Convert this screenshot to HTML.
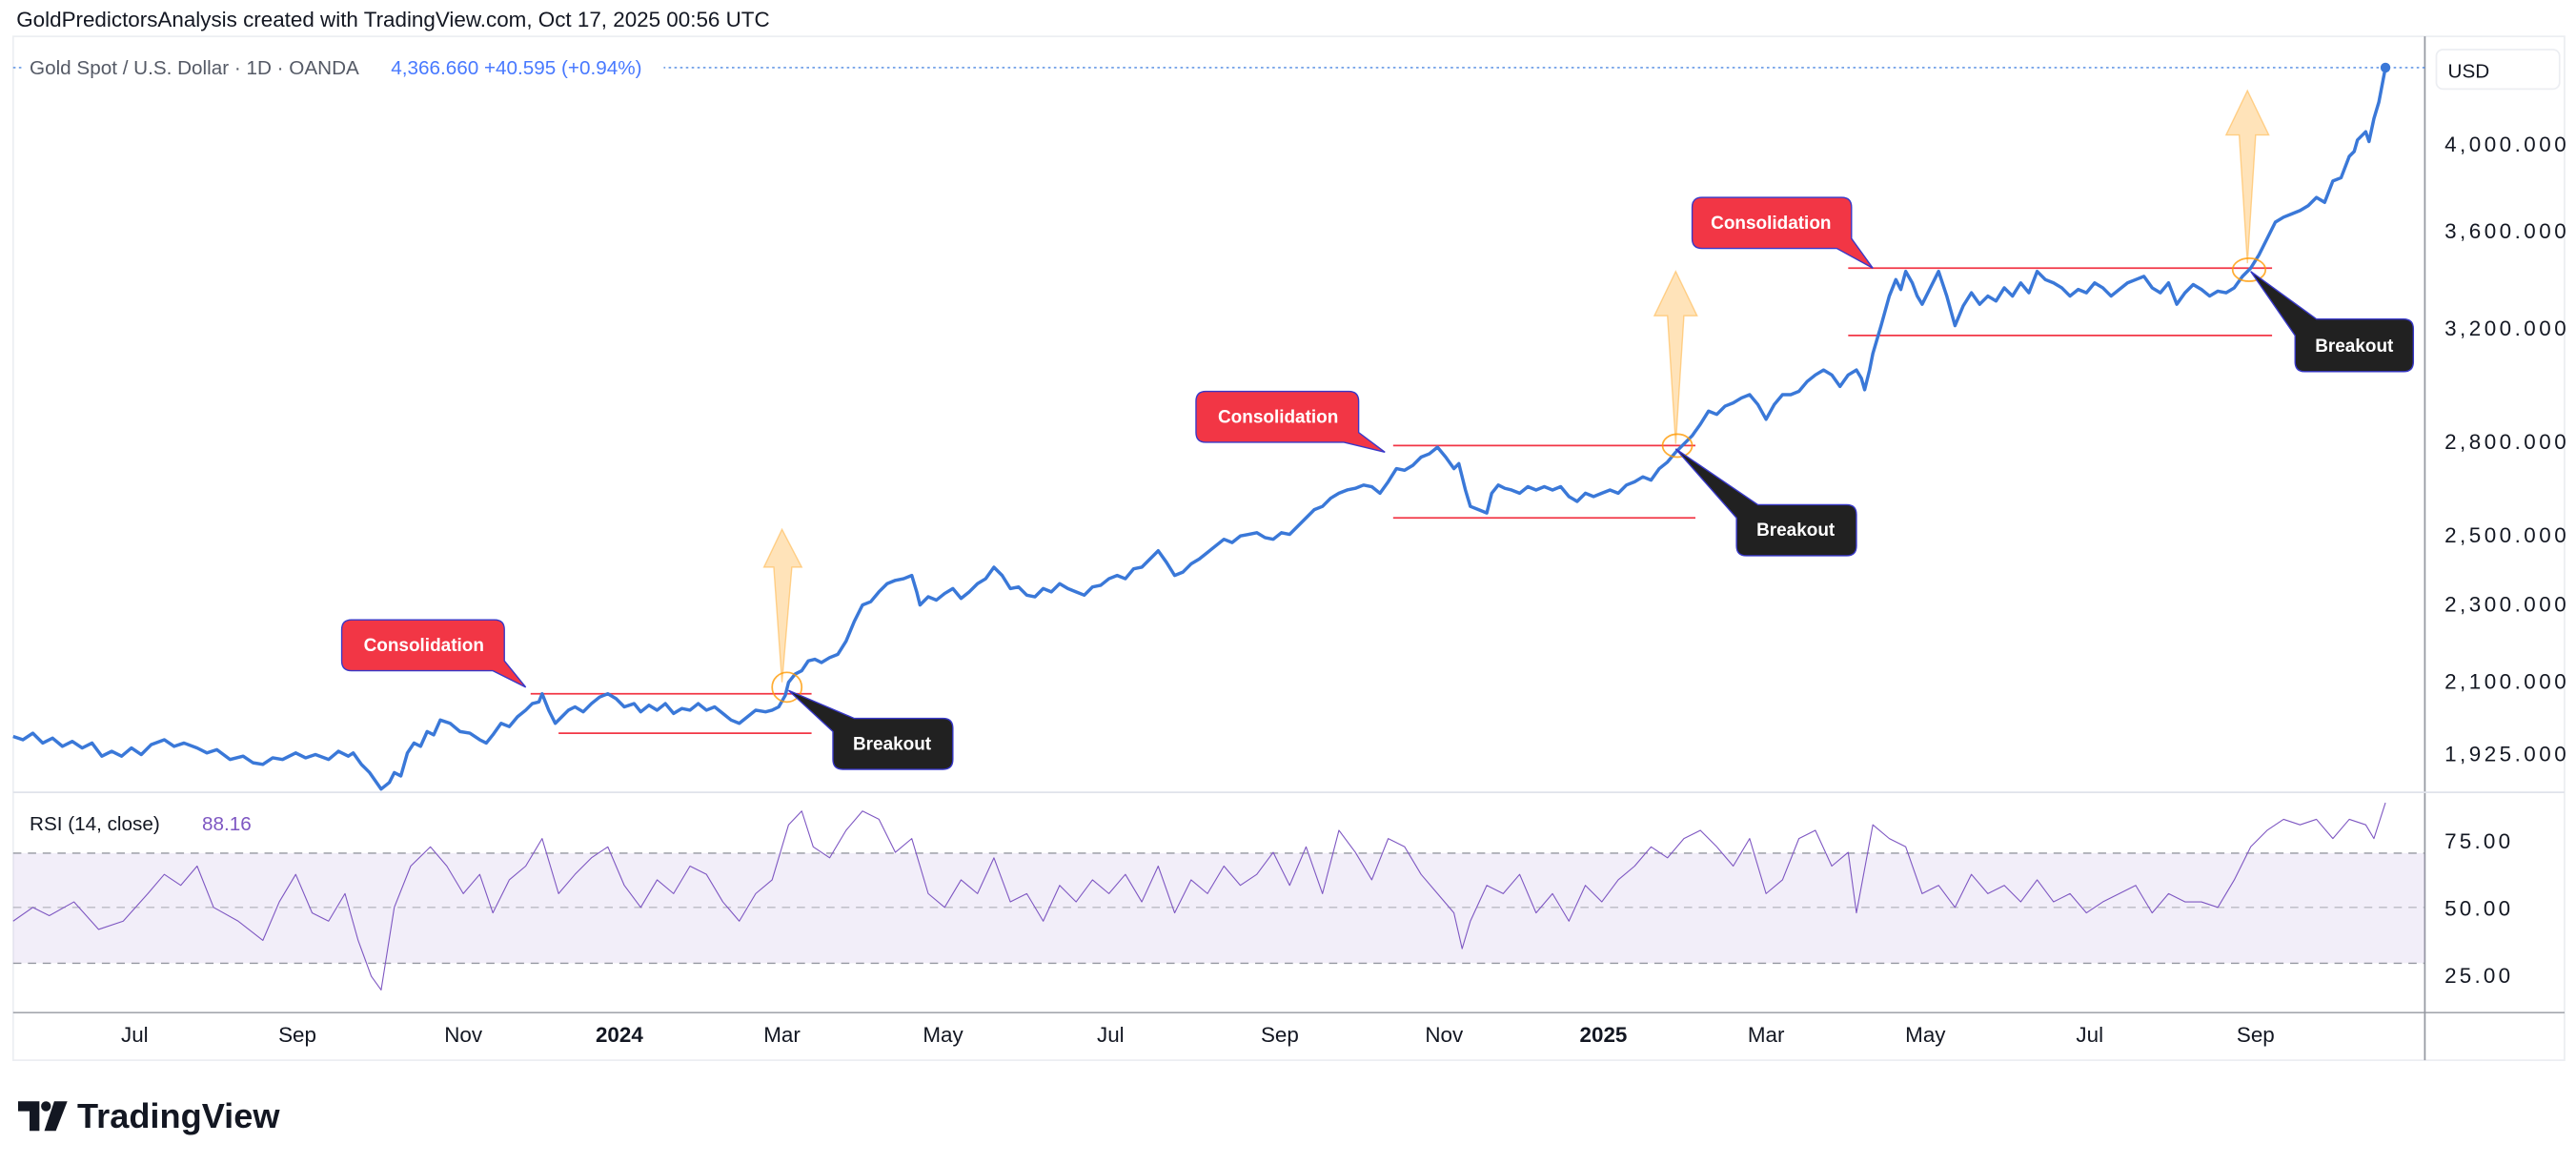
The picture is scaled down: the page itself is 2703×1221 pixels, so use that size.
<!DOCTYPE html>
<html><head><meta charset="utf-8"><style>
html,body{margin:0;padding:0;background:#fff;}
svg{display:block;}
text{font-family:"Liberation Sans","DejaVu Sans",sans-serif;}
</style></head><body>
<svg width="2703" height="1221" viewBox="0 0 1568 708" xmlns="http://www.w3.org/2000/svg">
<defs>
<clipPath id="above"><rect x="0" y="480" width="1476" height="39"/></clipPath>
<clipPath id="below"><rect x="0" y="586" width="1476" height="30"/></clipPath>
</defs>
<rect width="1568" height="708" fill="#fff"/>
<text x="10" y="16" font-size="13" fill="#131722">GoldPredictorsAnalysis created with TradingView.com, Oct 17, 2025 00:56 UTC</text>
<rect x="8" y="22" width="1553" height="623" fill="#fff" stroke="#eceef2" stroke-width="1"/>
<line x1="1476" y1="22" x2="1476" y2="645" stroke="#9598a1" stroke-width="1"/>
<line x1="8" y1="482" x2="1561" y2="482" stroke="#e0e3eb" stroke-width="1"/>
<line x1="8" y1="616" x2="1561" y2="616" stroke="#9598a1" stroke-width="0.8"/>
<line x1="8" y1="41" x2="1476" y2="41" stroke="#4a86e0" stroke-width="0.8" stroke-dasharray="1.5,2"/>
<rect x="14" y="33" width="390" height="16" fill="#fff"/>
<text x="18" y="45" font-size="12" fill="#555a66">Gold Spot / U.S. Dollar · 1D · OANDA</text>
<text x="238" y="45" font-size="12" fill="#2962ff" opacity="0.85">4,366.660  +40.595 (+0.94%)</text>
<rect x="1483" y="30" width="75" height="24" rx="4" fill="#fff" stroke="#eceef2"/>
<text x="1490" y="47" font-size="12" fill="#131722">USD</text>
<g font-size="13" fill="#131722">
<text x="1488" y="92" textLength="74">4,000.000</text>
<text x="1488" y="145" textLength="74">3,600.000</text>
<text x="1488" y="204" textLength="74">3,200.000</text>
<text x="1488" y="273" textLength="74">2,800.000</text>
<text x="1488" y="330" textLength="74">2,500.000</text>
<text x="1488" y="372" textLength="74">2,300.000</text>
<text x="1488" y="419" textLength="74">2,100.000</text>
<text x="1488" y="463" textLength="74">1,925.000</text>
<text x="1488" y="516" textLength="40">75.00</text>
<text x="1488" y="557" textLength="40">50.00</text>
<text x="1488" y="598" textLength="40">25.00</text>
</g>
<g font-size="13" fill="#131722" text-anchor="middle">
<text x="82" y="634">Jul</text><text x="181" y="634">Sep</text><text x="282" y="634">Nov</text>
<text x="377" y="634" font-weight="bold">2024</text><text x="476" y="634">Mar</text><text x="574" y="634">May</text>
<text x="676" y="634">Jul</text><text x="779" y="634">Sep</text><text x="879" y="634">Nov</text>
<text x="976" y="634" font-weight="bold">2025</text><text x="1075" y="634">Mar</text><text x="1172" y="634">May</text>
<text x="1272" y="634">Jul</text><text x="1373" y="634">Sep</text>
</g>
<rect x="8" y="519" width="1468" height="67" fill="#7e57c2" opacity="0.1"/>
<g stroke="#9598a1" stroke-width="0.8" stroke-dasharray="5,4">
<line x1="8" y1="519" x2="1476" y2="519"/><line x1="8" y1="552" x2="1476" y2="552" opacity="0.6"/><line x1="8" y1="586" x2="1476" y2="586"/>
</g>
<text x="18" y="505" font-size="12" fill="#131722">RSI (14, close)</text>
<text x="123" y="505" font-size="12" fill="#7e57c2">88.16</text>
<g transform="translate(0,635.75) scale(1,-1.675)">
<polygon clip-path="url(#above)" fill="#4caf50" opacity="0.3" points="8,70 8,45 20,50 30,47 45,52 60,42 75,45 90,55 100,62 110,58 120,65 130,50 145,45 160,38 170,52 180,62 190,48 200,45 210,55 218,38 226,25 232,20 240,50 250,65 262,72 272,65 282,55 292,62 300,48 310,60 320,65 330,75 340,55 350,62 360,68 370,72 380,58 390,50 400,60 410,55 420,65 430,62 440,52 450,45 460,55 470,60 480,80 488,85 495,72 505,68 515,78 525,85 535,82 545,70 555,75 565,55 575,50 585,60 595,55 605,68 615,52 625,55 635,45 645,58 655,52 665,60 675,55 685,62 695,52 705,65 715,48 725,60 735,55 745,65 755,58 765,62 775,70 785,58 795,72 805,55 815,78 825,70 835,60 845,75 855,72 865,62 875,55 885,48 890,35 895,45 905,58 915,55 925,62 935,48 945,55 955,45 965,58 975,52 985,60 995,65 1005,72 1015,68 1025,75 1035,78 1045,72 1055,65 1065,75 1075,55 1085,60 1095,75 1105,78 1115,65 1125,70 1130,48 1140,80 1150,75 1160,72 1170,55 1180,58 1190,50 1200,62 1210,55 1220,58 1230,52 1240,60 1250,52 1260,55 1270,48 1280,52 1290,55 1300,58 1310,48 1320,55 1330,52 1340,52 1350,50 1360,60 1370,72 1380,78 1390,82 1400,80 1410,82 1420,75 1430,82 1440,80 1445,75 1452,88 1452,70"/>
<polygon clip-path="url(#below)" fill="#f23645" opacity="0.3" points="210,30 218,38 226,25 232,20 240,50"/>
<polyline fill="none" stroke="#7e57c2" stroke-width="1.1" vector-effect="non-scaling-stroke" stroke-linejoin="round" points="8,45 20,50 30,47 45,52 60,42 75,45 90,55 100,62 110,58 120,65 130,50 145,45 160,38 170,52 180,62 190,48 200,45 210,55 218,38 226,25 232,20 240,50 250,65 262,72 272,65 282,55 292,62 300,48 310,60 320,65 330,75 340,55 350,62 360,68 370,72 380,58 390,50 400,60 410,55 420,65 430,62 440,52 450,45 460,55 470,60 480,80 488,85 495,72 505,68 515,78 525,85 535,82 545,70 555,75 565,55 575,50 585,60 595,55 605,68 615,52 625,55 635,45 645,58 655,52 665,60 675,55 685,62 695,52 705,65 715,48 725,60 735,55 745,65 755,58 765,62 775,70 785,58 795,72 805,55 815,78 825,70 835,60 845,75 855,72 865,62 875,55 885,48 890,35 895,45 905,58 915,55 925,62 935,48 945,55 955,45 965,58 975,52 985,60 995,65 1005,72 1015,68 1025,75 1035,78 1045,72 1055,65 1065,75 1075,55 1085,60 1095,75 1105,78 1115,65 1125,70 1130,48 1140,80 1150,75 1160,72 1170,55 1180,58 1190,50 1200,62 1210,55 1220,58 1230,52 1240,60 1250,52 1260,55 1270,48 1280,52 1290,55 1300,58 1310,48 1320,55 1330,52 1340,52 1350,50 1360,60 1370,72 1380,78 1390,82 1400,80 1410,82 1420,75 1430,82 1440,80 1445,75 1452,88"/>
</g>
<g fill="#ffcc80" fill-opacity="0.55" stroke="#ffb74d" stroke-opacity="0.6" stroke-width="0.8">
<polygon points="476,415 471,345 465,345 476,322 488,345 482,345"/>
<polygon points="1020,270 1015,192 1007,192 1020,165 1033,192 1025,192"/>
<polygon points="1368,160 1363,82 1355,82 1368,55 1381,82 1373,82"/>
</g>
<g stroke="#f23645" stroke-width="1">
<line x1="323" y1="422" x2="494" y2="422"/><line x1="340" y1="446" x2="494" y2="446"/>
<line x1="848" y1="271" x2="1032" y2="271"/><line x1="848" y1="315" x2="1032" y2="315"/>
<line x1="1125" y1="163" x2="1383" y2="163"/><line x1="1125" y1="204" x2="1383" y2="204"/>
</g>
<polyline fill="none" stroke="#3a78d8" stroke-width="2" stroke-linejoin="round" points="8,448 14,450 20,446 26,452 32,449 38,454 44,451 50,455 56,452 62,460 68,457 74,460 80,455 86,459 92,453 100,450 106,454 112,452 120,455 126,458 132,456 140,462 148,460 154,464 160,465 166,461 172,462 180,458 186,461 192,459 200,462 206,457 212,460 215,458 220,465 225,470 232,480 237,476 240,470 244,472 248,458 252,452 256,454 260,445 264,447 268,438 274,440 280,445 286,446 292,450 296,452 300,447 305,440 310,442 315,436 320,432 324,428 328,427 330,422 334,432 338,440 342,436 346,432 350,430 355,433 360,428 365,424 370,422 375,425 380,430 386,428 390,433 395,429 400,432 405,428 410,434 415,431 420,432 425,428 430,432 435,430 440,434 445,438 450,440 455,436 460,432 466,433 470,432 474,430 478,423 480,415 484,410 488,408 492,402 496,401 500,403 505,400 510,398 515,390 520,378 525,368 530,366 535,360 540,355 545,353 550,352 555,350 558,360 560,368 565,363 570,365 575,361 580,358 585,364 590,360 595,355 600,352 605,345 610,350 615,358 620,357 625,362 630,363 635,358 640,360 645,355 650,358 655,360 660,362 665,357 670,356 675,352 680,350 685,352 690,346 695,345 700,340 705,335 710,342 715,350 720,348 725,343 730,340 735,336 740,332 745,328 750,330 755,326 760,325 765,324 770,327 775,328 780,324 785,325 790,320 795,315 800,310 805,308 810,303 815,300 820,298 825,297 830,295 835,296 840,300 845,293 850,285 855,286 860,283 865,278 870,276 875,272 880,278 885,285 888,282 892,298 895,308 900,310 905,312 908,300 912,295 916,297 920,298 925,300 930,296 935,298 940,296 945,298 950,296 955,302 960,305 965,300 970,302 975,300 980,298 985,300 990,295 995,293 1000,290 1005,292 1010,285 1015,281 1020,275 1025,270 1030,265 1035,258 1040,250 1045,252 1050,247 1055,245 1060,242 1065,240 1070,246 1075,255 1080,246 1085,240 1090,240 1095,238 1100,232 1105,228 1110,225 1115,228 1120,235 1125,228 1130,225 1133,230 1135,237 1138,225 1140,215 1145,198 1150,180 1154,170 1157,176 1160,165 1164,172 1167,180 1170,185 1175,175 1180,165 1185,180 1190,198 1195,186 1200,178 1205,185 1210,180 1215,183 1220,175 1225,180 1230,172 1235,178 1240,165 1245,170 1250,172 1255,175 1260,180 1265,176 1270,178 1275,172 1280,175 1285,180 1290,176 1295,172 1300,170 1305,168 1310,175 1315,178 1320,172 1325,185 1330,178 1335,173 1340,176 1345,180 1350,177 1355,178 1360,175 1365,168 1370,163 1375,155 1380,145 1385,135 1390,132 1395,130 1400,128 1405,125 1410,120 1415,123 1420,110 1425,108 1430,95 1433,92 1435,85 1440,80 1442,86 1445,72 1448,62 1452,41"/>
<circle cx="1452" cy="41" r="3" fill="#3a78d8"/>
<g fill="none" stroke="#ff9800" stroke-width="1" opacity="0.8">
<ellipse cx="479" cy="418" rx="9" ry="9"/>
<ellipse cx="1021" cy="271" rx="9" ry="7"/>
<ellipse cx="1369" cy="164" rx="10" ry="7"/>
</g>
<g stroke="#3838c8" stroke-width="0.8" fill="#f23645">
<path d="M214,377 H301 Q307,377 307,383 V402 L320,418 L300,408 H214 Q208,408 208,402 V383 Q208,377 214,377 Z"/>
<path d="M734,238 H821 Q827,238 827,244 V263 L843,275 L818,269 H734 Q728,269 728,263 V244 Q728,238 734,238 Z"/>
<path d="M1036,120 H1121 Q1127,120 1127,126 V145 L1140,163 L1118,151 H1036 Q1030,151 1030,145 V126 Q1030,120 1036,120 Z"/>
</g>
<g font-size="11" font-weight="bold" fill="#fff" text-anchor="middle">
<text x="258" y="396">Consolidation</text>
<text x="778" y="257">Consolidation</text>
<text x="1078" y="139">Consolidation</text>
</g>
<g stroke="#3838c8" stroke-width="0.8" fill="#212121">
<path d="M480,420 L520,437 H574 Q580,437 580,443 V462 Q580,468 574,468 H513 Q507,468 507,462 V445 Z"/>
<path d="M1020,273 L1070,307 H1124 Q1130,307 1130,313 V332 Q1130,338 1124,338 H1063 Q1057,338 1057,332 V315 Z"/>
<path d="M1370,165 L1410,194 H1463 Q1469,194 1469,200 V220 Q1469,226 1463,226 H1403 Q1397,226 1397,220 V204 Z"/>
</g>
<g font-size="11" font-weight="bold" fill="#fff" text-anchor="middle">
<text x="543" y="456">Breakout</text>
<text x="1093" y="326">Breakout</text>
<text x="1433" y="214">Breakout</text>
</g>
<g fill="#131722">
<path d="M11,670 H24 V688 H18 V676 H11 Z"/>
<circle cx="28" cy="673" r="3"/>
<path d="M33,670 H41 L34,688 H27 Z"/>
</g>
<text x="47" y="686" font-size="21" font-weight="bold" fill="#131722">TradingView</text>
</svg>
</body></html>
